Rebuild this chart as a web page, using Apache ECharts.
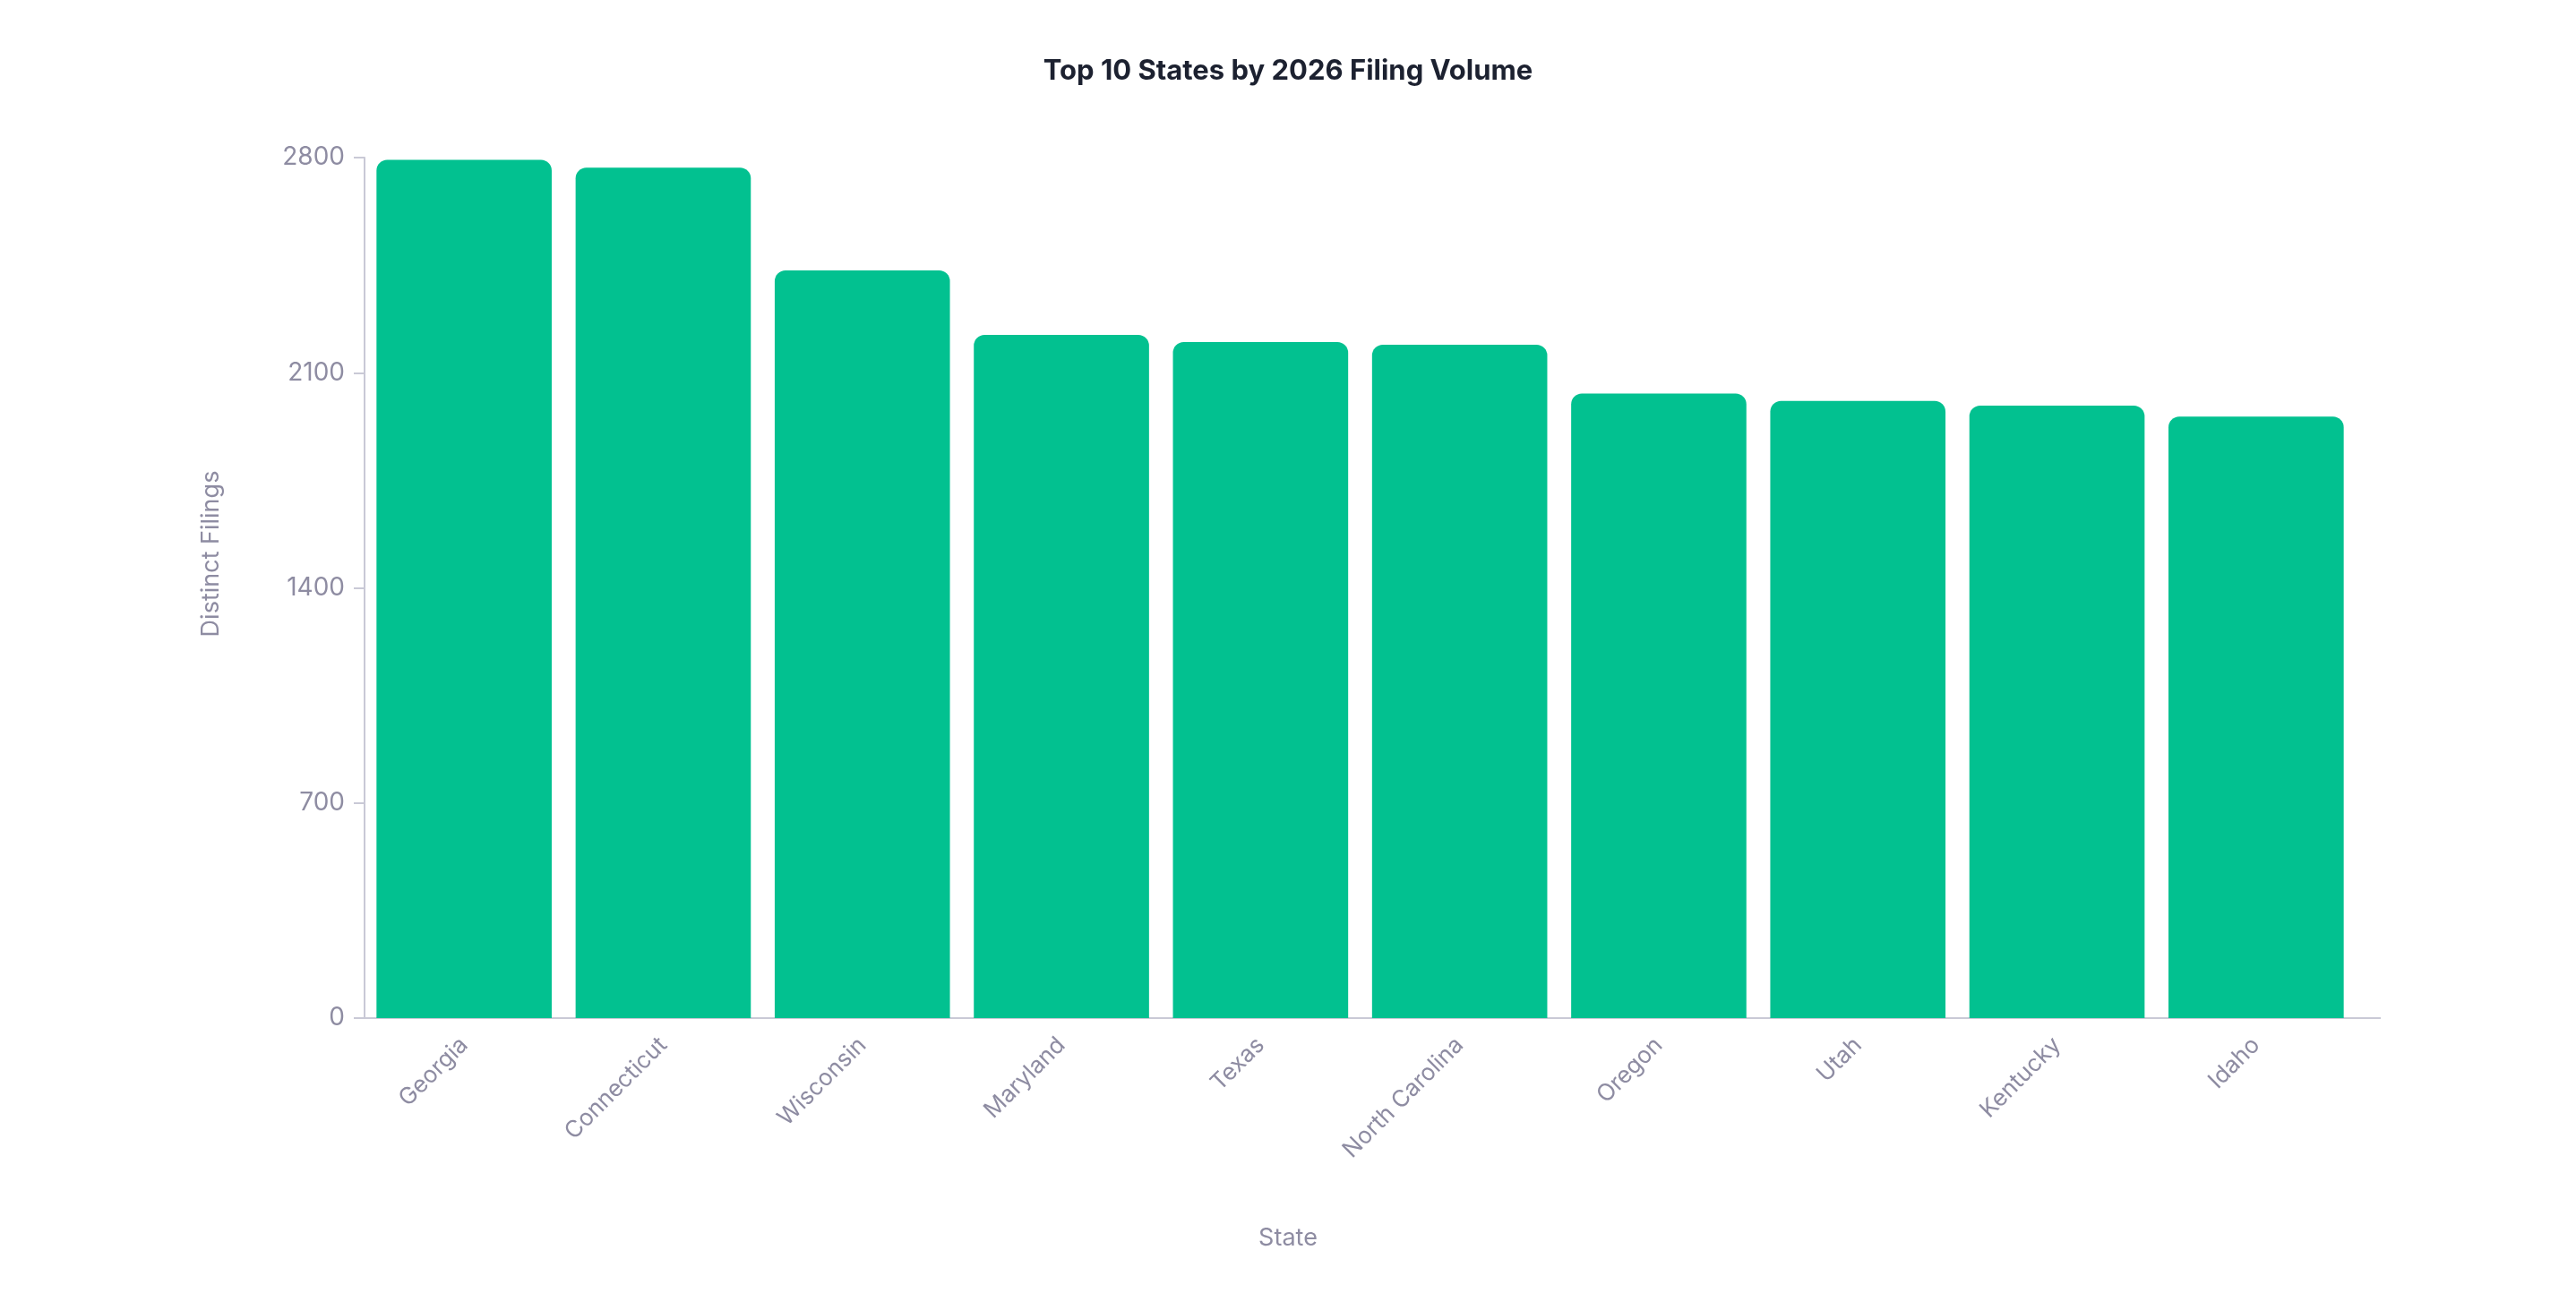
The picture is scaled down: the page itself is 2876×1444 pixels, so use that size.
<!DOCTYPE html>
<html>
<head>
<meta charset="utf-8">
<title>Top 10 States by 2026 Filing Volume</title>
<script src="https://cdn.jsdelivr.net/npm/echarts@6/dist/echarts.min.js"></script>
<style>
  html, body { margin: 0; padding: 0; background: #fff; }
  #chart { width: 2876px; height: 1444px; }
</style>
</head>
<body>
<div id="chart"></div>
<script>
// data
var states = ['Georgia', 'Connecticut', 'Wisconsin', 'Maryland', 'Texas', 'North Carolina', 'Oregon', 'Utah', 'Kentucky', 'Idaho']
var filings = [2793, 2767, 2433, 2223, 2200, 2191, 2032, 2008, 1993, 1957]
var yMin = 0
var yMax = 2800
var yStep = 700

var labelColor = '#8e8ca2'
var lineColor = '#c9c9d6'
var fontFamily = 'Inter, "Noto Sans", sans-serif'

var gridLeft = 407
var gridRight = 246
var gridTop = 176
var gridBottom = 307
var axisOverhang = 28 // x axis line runs a bit past the last category

var dom = document.getElementById('chart')
var myChart = echarts.init(dom)
var chartW = dom.clientWidth
var chartH = dom.clientHeight

var option = {
  textStyle: { fontFamily: fontFamily },
  title: {
    text: 'Top 10 States by 2026 Filing Volume',
    left: 'center',
    top: 59,
    textStyle: {
      color: '#1c2130',
      fontSize: 31,
      fontWeight: 'bold',
      fontFamily: fontFamily
    }
  },
  grid: {
    left: gridLeft,
    right: gridRight,
    top: gridTop,
    bottom: gridBottom
  },
  xAxis: {
    type: 'category',
    data: states,
    name: 'State',
    nameLocation: 'middle',
    nameGap: 232,
    nameTextStyle: {
      color: labelColor,
      fontSize: 27,
      padding: [0, 161, 0, 0]
    },
    axisLine: { lineStyle: { color: lineColor, width: 2 } },
    axisTick: { alignWithLabel: true, length: 13, lineStyle: { color: lineColor, width: 2 } },
    axisLabel: {
      rotate: 45,
      margin: 26,
      color: labelColor,
      fontSize: 26
    }
  },
  yAxis: {
    type: 'value',
    min: yMin,
    max: yMax,
    interval: yStep,
    name: 'Distinct Filings',
    nameLocation: 'middle',
    nameGap: 158,
    nameTextStyle: {
      color: labelColor,
      fontSize: 27,
      padding: [0, 0, 0, 76]
    },
    axisLine: { show: true, lineStyle: { color: lineColor, width: 2 } },
    axisTick: { show: true, length: 12, lineStyle: { color: lineColor, width: 2 } },
    axisLabel: {
      margin: 22,
      color: labelColor,
      fontSize: 28,
      formatter: function (v) { return String(v) }
    },
    splitLine: { show: false }
  },
  graphic: [
    {
      type: 'line',
      x: chartW - gridRight - 1,
      y: chartH - gridBottom,
      shape: { x1: 0, y1: 0, x2: axisOverhang + 1, y2: 0 },
      style: { stroke: lineColor, lineWidth: 2 }
    }
  ],
  series: [
    {
      name: 'Distinct Filings',
      type: 'bar',
      data: filings,
      barCategoryGap: '12%',
      itemStyle: {
        color: '#02c190',
        borderRadius: [12, 12, 0, 0]
      }
    }
  ]
}

myChart.setOption(option)
</script>
</body>
</html>
